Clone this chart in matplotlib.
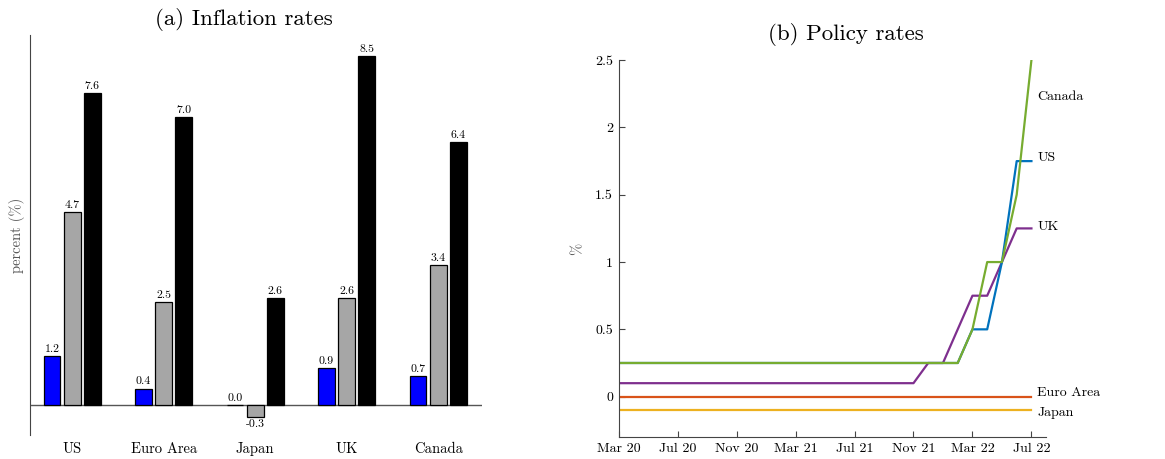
import numpy as np
import matplotlib
matplotlib.use('Agg')
from matplotlib import pyplot as plt

plt.rcParams['font.family'] = ['cmr10', 'DejaVu Serif']
plt.rcParams['axes.unicode_minus'] = False

# Panel (a): inflation rates by country, three periods
countries = ['US', 'Euro Area', 'Japan', 'UK', 'Canada']
infl_first = [1.2, 0.4, 0.0, 0.9, 0.7]
infl_second = [4.7, 2.5, -0.3, 2.6, 3.4]
infl_third = [7.6, 7.0, 2.6, 8.5, 6.4]

# Panel (b): monthly policy rates, Mar 2020 .. Jul 2022
month_labels = ['Mar 20', 'Jul 20', 'Nov 20', 'Mar 21', 'Jul 21', 'Nov 21', 'Mar 22', 'Jul 22']
rate_us = [0.25] * 24 + [0.5, 0.5, 1.0, 1.75, 1.75]
rate_canada = [0.25] * 24 + [0.5, 1.0, 1.0, 1.5, 2.5]
rate_uk = [0.1] * 21 + [0.25, 0.25, 0.5, 0.75, 0.75, 1.0, 1.25, 1.25]
rate_ea = [0.0] * 29
rate_japan = [-0.1] * 29

months = np.arange(len(rate_us))

fig = plt.figure(figsize=(11.65, 4.59), dpi=100)

# ---- left panel ----
axl = fig.add_axes([0.0258, 0.0523, 0.388, 0.871])
x = np.arange(len(countries))
w = 0.185
off = 0.22
series = [(infl_first, (0, 0, 1)), (infl_second, '#a6a6a6'), (infl_third, 'black')]
for i, (vals, col) in enumerate(series):
    pos = x + (i - 1) * off
    axl.bar(pos, vals, width=w, color=col, edgecolor='black', linewidth=0.9, zorder=3)
    for px, v in zip(pos, vals):
        if v < 0:
            axl.annotate('%.1f' % v, (px, v), xytext=(0, -1.5), textcoords='offset points',
                         ha='center', va='top', fontsize=8.5)
        else:
            axl.annotate('%.1f' % v, (px, v), xytext=(0, 1.5), textcoords='offset points',
                         ha='center', va='bottom', fontsize=8.5)

axl.axhline(0, color='#555555', linewidth=1.0, zorder=2)
axl.set_xlim(-0.46, 4.48)
axl.set_ylim(-0.73, 9.0)
axl.set_xticks(x)
axl.set_xticklabels(countries, fontsize=10.5)
axl.tick_params(axis='x', length=0, pad=5)
axl.set_yticks([])
for s in ['top', 'right', 'bottom']:
    axl.spines[s].set_visible(False)
axl.spines['left'].set_color('#444444')
axl.set_ylabel('percent (%)', fontsize=10.5, color='#555555', labelpad=4)
fig.text(0.209, 0.958, '(a) Inflation rates', ha='center', va='center', fontsize=16.5)

# ---- right panel ----
axr = fig.add_axes([0.531, 0.0479, 0.367, 0.821])
axr.plot(months, rate_ea, color='#D95319', linewidth=1.6)
axr.plot(months, rate_japan, color='#EDB120', linewidth=1.6)
axr.plot(months, rate_uk, color='#7E2F8E', linewidth=1.6)
axr.plot(months, rate_us, color='#0072BD', linewidth=1.6)
axr.plot(months, rate_canada, color='#77AC30', linewidth=1.6)

axr.set_xlim(0, 29)
axr.set_ylim(-0.3, 2.5)
axr.set_xticks(np.arange(0, 29, 4))
axr.set_xticklabels(month_labels, fontsize=10)
axr.set_yticks([0, 0.5, 1, 1.5, 2, 2.5])
axr.set_yticklabels(['0', '0.5', '1', '1.5', '2', '2.5'], fontsize=10)
axr.tick_params(direction='in', length=4, color='#444444', pad=4)
for s in ['top', 'right']:
    axr.spines[s].set_visible(False)
for s in ['left', 'bottom']:
    axr.spines[s].set_color('#444444')
axr.set_ylabel('%', fontsize=10.5, color='#555555', labelpad=8)

end_labels = [('Canada', 2.23), ('US', 1.77), ('UK', 1.26), ('Euro Area', 0.03), ('Japan', -0.12)]
for name, yv in end_labels:
    axr.text(28.4, yv, name, ha='left', va='center', fontsize=10, clip_on=False)

fig.text(0.726, 0.924, '(b) Policy rates', ha='center', va='center', fontsize=16.5)

fig.savefig('out.png', dpi=100)
